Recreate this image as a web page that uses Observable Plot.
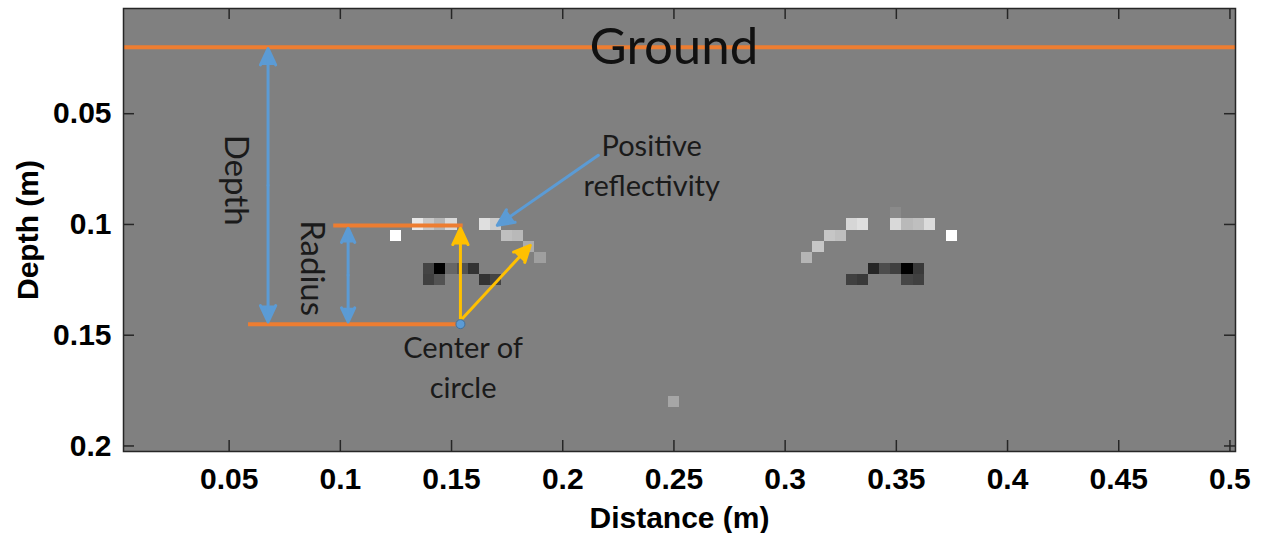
<!DOCTYPE html>
<html>
<head>
<meta charset="utf-8">
<script src="https://cdn.jsdelivr.net/npm/d3@7"></script>
<script src="https://cdn.jsdelivr.net/npm/@observablehq/plot@0.6"></script>
<style>
  html, body { margin: 0; padding: 0; background: #ffffff; }
  #chart svg { display: block; }
</style>
</head>
<body>
<div id="chart"></div>
<script>
// Reconstructed reflectivity image: one 5 mm cell per value (level -1 = black, 0 = grey, 1 = white)
const cellDistance = [
  0.125, 0.135, 0.14, 0.145, 0.15, 0.165, 0.17, 0.175, 0.18, 0.185, 0.19,
  0.14, 0.145, 0.15, 0.155, 0.16, 0.14, 0.145, 0.165, 0.17,
  0.31, 0.315, 0.32, 0.325, 0.33, 0.335, 0.35, 0.35, 0.355, 0.36, 0.365, 0.375,
  0.34, 0.345, 0.35, 0.355, 0.36, 0.33, 0.335, 0.355, 0.36,
  0.25
];
const cellDepth = [
  0.105, 0.1, 0.1, 0.1, 0.1, 0.1, 0.1, 0.105, 0.105, 0.11, 0.115,
  0.12, 0.12, 0.12, 0.12, 0.12, 0.125, 0.125, 0.125, 0.125,
  0.115, 0.11, 0.105, 0.105, 0.1, 0.1, 0.095, 0.1, 0.1, 0.1, 0.1, 0.105,
  0.12, 0.12, 0.12, 0.12, 0.12, 0.125, 0.125, 0.125, 0.125,
  0.18
];
const cellLevel = [
  1.0, 0.82, 0.57, 0.42, 0.7, 0.75, 0.6, 0.5, 0.45, 0.35, 0.25,
  -0.47, -1.0, -0.2, -0.35, -0.6, -0.5, -0.35, -0.6, -0.47,
  0.42, 0.55, 0.55, 0.5, 0.68, 0.75, 0.08, 0.7, 0.45, 0.5, 0.72, 1.0,
  -0.7, -0.4, -0.5, -1.0, -0.55, -0.5, -0.55, -0.45, -0.5,
  0.3
];
const cellSize = 0.005;

// Axis ticks
const distanceTicks = [0.05, 0.1, 0.15, 0.2, 0.25, 0.3, 0.35, 0.4, 0.45, 0.5];
const depthTicks = [0.05, 0.1, 0.15, 0.2];

// Annotation geometry (metres)
const groundDepth = [0.02];
const orangeSegments = [
  {x1: 0.0585, x2: 0.153, y1: 0.145, y2: 0.145},
  {x1: 0.0968, x2: 0.155, y1: 0.1005, y2: 0.1005}
];
const doubleArrows = [
  {x: 0.0675, top: 0.0206, bottom: 0.144},
  {x: 0.1035, top: 0.1017, bottom: 0.144}
];
const yellowArrows = [
  {x1: 0.154, y1: 0.1433, x2: 0.154, y2: 0.1017},
  {x1: 0.155, y1: 0.1423, x2: 0.1854, y2: 0.1094}
];
const pointerArrows = [
  {x1: 0.216, y1: 0.0688, x2: 0.1706, y2: 0.1004}
];
const circleCenter = [{x: 0.154, y: 0.145}];
const groundLabel = [{x: 0.25, y: 0.02, text: "Ground"}];
const sideNotes = [
  {x: 0.0531, y: 0.080, text: "Depth"},
  {x: 0.0869, y: 0.1197, text: "Radius"}
];
const notes = [
  {x: 0.24, y: 0.0724, text: "Positive\nreflectivity"},
  {x: 0.1552, y: 0.1635, text: "Center of\ncircle"}
];
const axisTitles = {x: "Distance (m)", y: "Depth (m)"};

const cells = cellDistance.map((d, i) => ({x: d, y: cellDepth[i], level: cellLevel[i]}));

// Double-headed arrows are drawn as two arrows leaving the midpoint
const doubleArrowHalves = doubleArrows.flatMap(a => {
  const mid = (a.top + a.bottom) / 2;
  return [
    {x1: a.x, y1: mid, x2: a.x, y2: a.top},
    {x1: a.x, y1: mid, x2: a.x, y2: a.bottom}
  ];
});

const ORANGE = "#ED7D31";
const BLUE = "#5B9BD5";
const YELLOW = "#FFC000";
const INK = "#262626";
const noteFont = "Lato, 'Open Sans', sans-serif";
const axisFont = "'Liberation Sans', Arial, sans-serif";

const W = 1262, H = 533;
const mL = 123, mR = 27, mT = 8, mB = 82;
const plotW = W - mL - mR, plotH = H - mT - mB;
const tickLen = 11;
const arrowStyle = {x1: "x1", y1: "y1", x2: "x2", y2: "y2", strokeWidth: 3, headLength: 9, headAngle: 50};

const chart = Plot.plot({
  width: W,
  height: H,
  marginLeft: mL,
  marginRight: mR,
  marginTop: mT,
  marginBottom: mB,
  style: {background: "#ffffff", color: "#000", overflow: "visible"},
  x: {domain: [0.0025, 0.5025]},
  y: {domain: [0.0025, 0.2025], reverse: true},
  color: {type: "linear", domain: [-1, 1], range: ["#000000", "#ffffff"]},
  marks: [
    Plot.frame({fill: "#808080"}),
    Plot.rect(cells, {
      x1: d => d.x - cellSize / 2,
      x2: d => d.x + cellSize / 2,
      y1: d => d.y - cellSize / 2,
      y2: d => d.y + cellSize / 2,
      fill: "level",
      shapeRendering: "crispEdges"
    }),
    // inward tick marks on all four sides
    Plot.ruleX(distanceTicks, {stroke: INK, strokeWidth: 1.5, insetTop: plotH - tickLen}),
    Plot.ruleX(distanceTicks, {stroke: INK, strokeWidth: 1.5, insetBottom: plotH - tickLen}),
    Plot.ruleY(depthTicks, {stroke: INK, strokeWidth: 1.5, insetRight: plotW - tickLen}),
    Plot.ruleY(depthTicks, {stroke: INK, strokeWidth: 1.5, insetLeft: plotW - tickLen}),
    Plot.axisX({
      ticks: distanceTicks, tickSize: 0, tickPadding: 16, tickFormat: d => String(d),
      label: null, fontSize: 30, fontWeight: "bold", fontFamily: axisFont
    }),
    Plot.axisY({
      ticks: depthTicks, tickSize: 0, tickPadding: 12, tickFormat: d => String(d),
      label: null, fontSize: 30, fontWeight: "bold", fontFamily: axisFont
    }),
    Plot.text([axisTitles.x], {
      frameAnchor: "bottom", dy: 76, text: d => d,
      fontSize: 30, fontWeight: "bold", fontFamily: axisFont, fill: "#000"
    }),
    Plot.text([axisTitles.y], {
      frameAnchor: "left", dx: -95, rotate: -90, textAnchor: "middle", text: d => d,
      fontSize: 30, fontWeight: "bold", fontFamily: axisFont, fill: "#000"
    }),
    // annotations
    Plot.ruleY(groundDepth, {stroke: ORANGE, strokeWidth: 4}),
    Plot.link(orangeSegments, {x1: "x1", y1: "y1", x2: "x2", y2: "y2", stroke: ORANGE, strokeWidth: 4}),
    Plot.arrow(doubleArrowHalves, {...arrowStyle, stroke: BLUE, fill: BLUE}),
    Plot.arrow(pointerArrows, {...arrowStyle, stroke: BLUE, fill: BLUE}),
    Plot.arrow(yellowArrows, {...arrowStyle, stroke: YELLOW, fill: YELLOW}),
    Plot.dot(circleCenter, {x: "x", y: "y", r: 4.5, fill: BLUE, stroke: "#41719C", strokeWidth: 1}),
    Plot.text(groundLabel, {x: "x", y: "y", text: "text", fontSize: 51, fontFamily: noteFont, fill: "#111"}),
    Plot.text(sideNotes, {
      x: "x", y: "y", text: "text", rotate: 90,
      fontSize: 33, fontFamily: noteFont, fill: "#1a1a1a"
    }),
    Plot.text(notes, {
      x: "x", y: "y", text: "text",
      fontSize: 29, lineHeight: 1.38, fontFamily: noteFont, fill: "#1a1a1a"
    }),
    Plot.frame({stroke: INK, strokeWidth: 1.5})
  ]
});

document.getElementById("chart").append(chart);
</script>
</body>
</html>
